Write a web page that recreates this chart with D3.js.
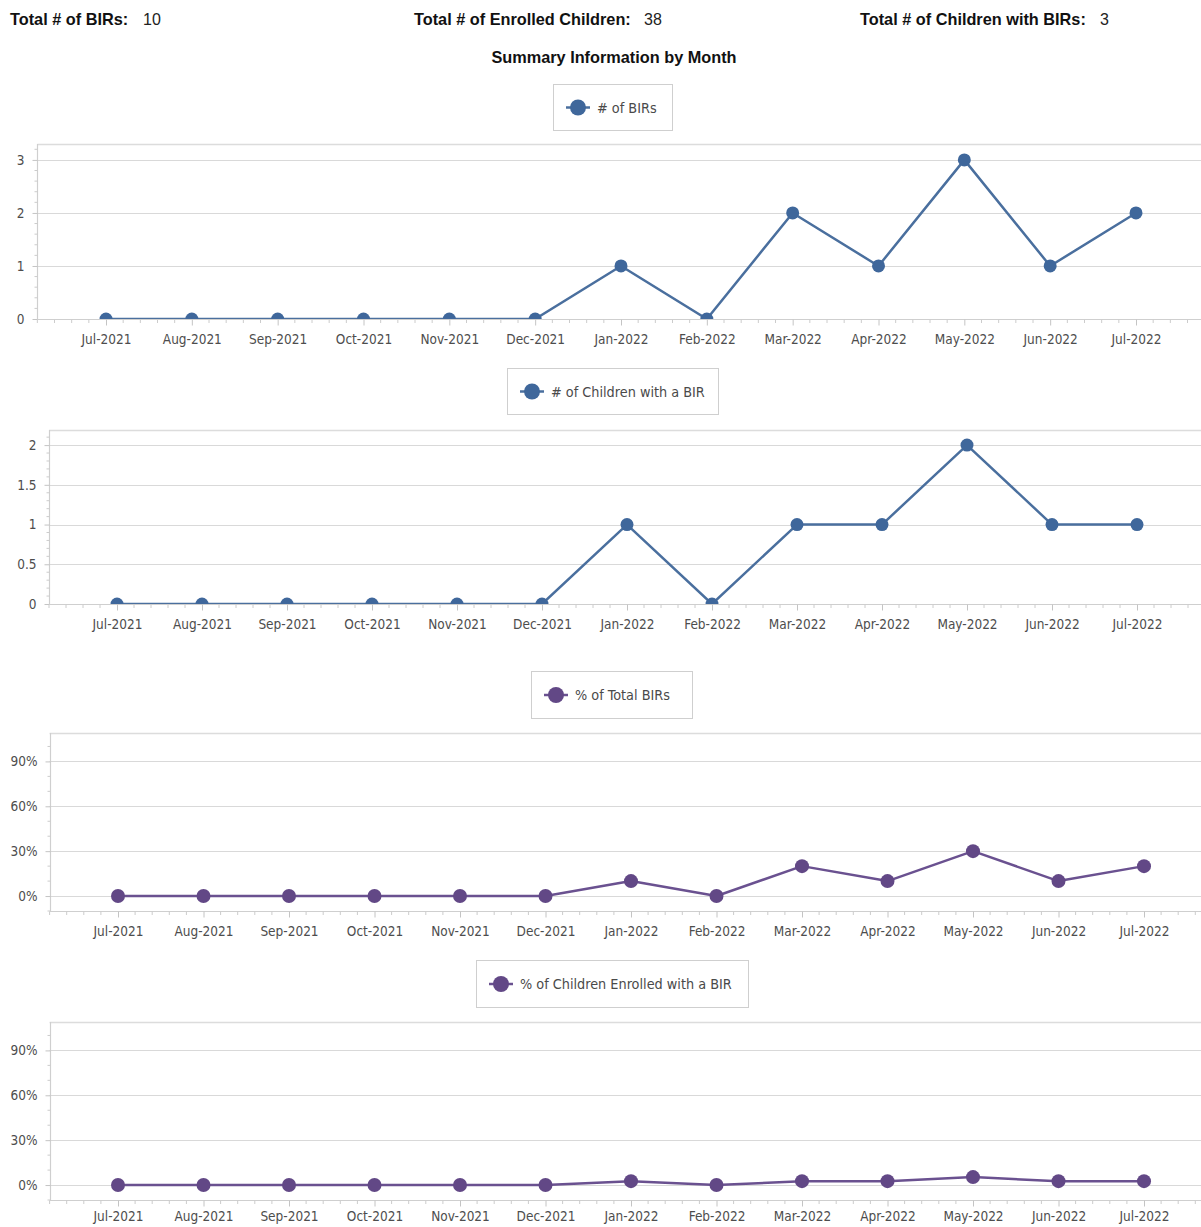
<!DOCTYPE html>
<html>
<head>
<meta charset="utf-8">
<script src="https://cdn.jsdelivr.net/npm/d3@7"></script>
<style>
  html, body { margin: 0; padding: 0; background: #fff; }
  svg { display: block; }
</style>
</head>
<body>
<svg id="chart" width="1201" height="1227"></svg>
<script>
// Monthly summary data
const months = ["Jul-2021","Aug-2021","Sep-2021","Oct-2021","Nov-2021","Dec-2021",
                "Jan-2022","Feb-2022","Mar-2022","Apr-2022","May-2022","Jun-2022","Jul-2022"];
const birCounts      = [0,0,0,0,0,0,1,0,2,1,3,1,2];
const childrenCounts = [0,0,0,0,0,0,1,0,1,1,2,1,1];
const totalBIRs = 10;
const totalEnrolled = 38;
const totalChildrenWithBIRs = 3;
const pctOfTotalBIRs = [0,0,0,0,0,0,0.10,0,0.20,0.10,0.30,0.10,0.20];
const pctChildrenEnrolled = [0,0,0,0,0,0,0.026,0,0.026,0.026,0.053,0.026,0.026];

const countTicks1 = [0,1,2,3];
const countTicks2 = [0,0.5,1,1.5,2];
const pctTicks = [0,0.3,0.6,0.9];

const headerItems = [
  {label: "Total # of BIRs:", value: totalBIRs},
  {label: "Total # of Enrolled Children:", value: totalEnrolled},
  {label: "Total # of Children with BIRs:", value: totalChildrenWithBIRs}
];

const BLUE = "#3f679b", BLUE_LINE = "#4a6f9e";
const PURPLE = "#624886", PURPLE_LINE = "#6a5190";
const tickFont = "'DejaVu Sans Condensed', 'DejaVu Sans', sans-serif";
const headFont = "'Liberation Sans', Arial, sans-serif";

const svg = d3.select("#chart");

// Header line
const headerX = [{lx: 10, vx: 143}, {lx: 414, vx: 644}, {lx: 860, vx: 1100}];
headerItems.forEach((h, i) => {
  svg.append("text").attr("x", headerX[i].lx).attr("y", 25)
    .attr("font-family", headFont)
    .attr("font-size", 16.3).attr("font-weight", "bold").attr("fill", "#111")
    .text(h.label);
  svg.append("text").attr("x", headerX[i].vx).attr("y", 25)
    .attr("font-family", headFont)
    .attr("font-size", 16).attr("fill", "#222")
    .text(h.value);
});
svg.append("text").attr("x", 614).attr("y", 63).attr("text-anchor", "middle")
  .attr("font-family", headFont)
  .attr("font-size", 16.3).attr("font-weight", "bold").attr("fill", "#111")
  .text("Summary Information by Month");

// Panel layout
const panels = [
  {name: "# of BIRs", values: birCounts, color: BLUE, line: BLUE_LINE,
   legend: {x: 553, y: 84, w: 119, h: 46},
   first: 106, last: 1136, top: 144, bottom: 319, pad: 9,
   yDomain: [0, 3.3], ticks: countTicks1, minor: 0.2, fmt: d3.format("d"), r: 6.5},
  {name: "# of Children with a BIR", values: childrenCounts, color: BLUE, line: BLUE_LINE,
   legend: {x: 507, y: 368, w: 211, h: 46},
   first: 117, last: 1137, top: 430, bottom: 604, pad: 9,
   yDomain: [0, 2.19], ticks: countTicks2, minor: 0.1, fmt: d => d3.format("~g")(d), r: 6.5},
  {name: "% of Total BIRs", values: pctOfTotalBIRs, color: PURPLE, line: PURPLE_LINE,
   legend: {x: 531, y: 671, w: 161, h: 47},
   first: 118, last: 1144, top: 733, bottom: 911, pad: 9,
   yDomain: [-0.1, 1.09], ticks: pctTicks, minor: 0.1, fmt: d3.format(".0%"), r: 7},
  {name: "% of Children Enrolled with a BIR", values: pctChildrenEnrolled, color: PURPLE, line: PURPLE_LINE,
   legend: {x: 476, y: 960, w: 272, h: 47},
   first: 118, last: 1144, top: 1022, bottom: 1200, pad: 5,
   yDomain: [-0.1, 1.09], ticks: pctTicks, minor: 0.1, fmt: d3.format(".0%"), r: 7}
];

panels.forEach((p, pi) => {
  const step = (p.last - p.first) / (months.length - 1);
  const x = d3.scaleLinear().domain([-0.8, months.length - 0.2])
    .range([p.first - 0.8 * step, p.first + (months.length - 0.2) * step]);
  const y = d3.scaleLinear().domain(p.yDomain).range([p.bottom, p.top]);
  const left = x.range()[0], right = Math.max(x.range()[1], 1201);

  const g = svg.append("g");

  // Legend box
  const L = p.legend;
  g.append("rect").attr("x", L.x + 0.5).attr("y", L.y + 0.5).attr("width", L.w).attr("height", L.h)
    .attr("fill", "#fff").attr("stroke", "#cfcfcf");
  const ly = L.y + L.h / 2 + 0.5;
  g.append("line").attr("x1", L.x + 13).attr("x2", L.x + 37).attr("y1", ly).attr("y2", ly)
    .attr("stroke", p.line).attr("stroke-width", 2.5);
  g.append("circle").attr("cx", L.x + 25).attr("cy", ly).attr("r", 8).attr("fill", p.color);
  g.append("text").attr("x", L.x + 44).attr("y", ly + 5)
    .attr("font-family", tickFont).attr("font-size", 14.3).attr("fill", "#4a4a4a")
    .text(p.name);

  // Grid lines
  g.append("g").selectAll("line").data(p.ticks).join("line")
    .attr("x1", left).attr("x2", right)
    .attr("y1", d => Math.round(y(d)) + 0.5).attr("y2", d => Math.round(y(d)) + 0.5)
    .attr("stroke", "#d9d9d9").attr("stroke-width", 1.2);

  // Plot frame: top edge
  g.append("line").attr("x1", left).attr("x2", right).attr("y1", p.top + 0.5).attr("y2", p.top + 0.5)
    .attr("stroke", "#dcdcdc").attr("stroke-width", 1.5);

  // Y axis with minor ticks
  const minorY = d3.range(Math.ceil(p.yDomain[0] / p.minor - 1e-9), Math.floor(p.yDomain[1] / p.minor + 1e-9) + 1)
    .map(k => k * p.minor)
    .filter(v => !p.ticks.some(t => Math.abs(t - v) < 1e-9));
  const yAxis = d3.axisLeft(y).tickValues(p.ticks).tickFormat(p.fmt).tickSize(5).tickPadding(8);
  const yg = g.append("g").attr("transform", `translate(${Math.round(left) + 0.5},0)`).call(yAxis);
  yg.select(".domain").attr("d", `M0,${p.top}V${p.bottom}`).attr("stroke", "#cfcfcf").attr("stroke-width", 1.2);
  yg.selectAll(".tick line").attr("stroke", "#c4c4c4");
  yg.selectAll(".tick text").attr("font-family", tickFont).attr("font-size", 13.5).attr("fill", "#4d4d4d");
  yg.append("g").selectAll("line").data(minorY).join("line")
    .attr("x1", -3).attr("x2", 0).attr("y1", d => y(d)).attr("y2", d => y(d))
    .attr("stroke", "#cccccc");

  // X axis with minor ticks
  const minorX = d3.range(-4, (months.length - 1) * 5 + 5).map(k => k / 5).filter(v => Math.abs(v - Math.round(v)) > 1e-9);
  const xAxis = d3.axisBottom(x).tickValues(d3.range(months.length)).tickFormat(i => months[i]).tickSize(6).tickPadding(p.pad);
  const xg = g.append("g").attr("transform", `translate(0,${Math.round(p.bottom) + 0.5})`).call(xAxis);
  xg.select(".domain").attr("d", `M${left},0H${right}`).attr("stroke", "#cfcfcf").attr("stroke-width", 1.2);
  xg.selectAll(".tick line").attr("stroke", "#c4c4c4");
  xg.selectAll(".tick text").attr("font-family", tickFont).attr("font-size", 13.5).attr("fill", "#4d4d4d");
  xg.append("g").selectAll("line").data(minorX).join("line")
    .attr("x1", d => x(d)).attr("x2", d => x(d)).attr("y1", 0).attr("y2", 3.5)
    .attr("stroke", "#cccccc");

  // Series, clipped to the plot area
  const clipId = "clip" + pi;
  svg.append("clipPath").attr("id", clipId).append("rect")
    .attr("x", left).attr("y", p.top).attr("width", right - left).attr("height", p.bottom - p.top);
  const sg = g.append("g").attr("clip-path", `url(#${clipId})`);
  const line = d3.line().x((d, i) => x(i)).y(d => y(d));
  sg.append("path").datum(p.values).attr("d", line)
    .attr("fill", "none").attr("stroke", p.line).attr("stroke-width", 2.5).attr("stroke-linejoin", "round");
  sg.selectAll("circle").data(p.values).join("circle")
    .attr("cx", (d, i) => x(i)).attr("cy", d => y(d)).attr("r", p.r).attr("fill", p.color);
});
</script>
</body>
</html>
